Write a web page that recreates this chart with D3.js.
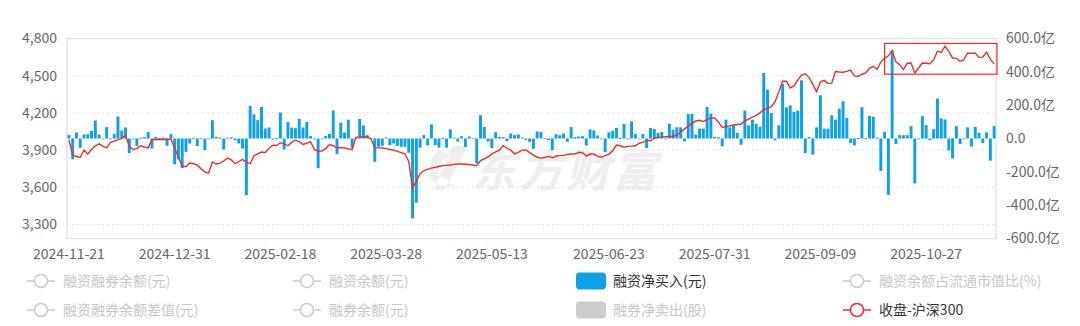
<!DOCTYPE html>
<html>
<head>
<meta charset="utf-8">
<script src="https://cdn.jsdelivr.net/npm/d3@7/dist/d3.min.js"></script>
<style>
  body { margin: 0; background: #fff; }
  text { font-family: "Noto Sans CJK SC", "Noto Sans", sans-serif; }
</style>
</head>
<body>
<script>
// chart size
var svgWidth = 1080;
var svgHeight = 326;

var margin = {
  top: 38.5,
  right: 84,
  bottom: 87.5,
  left: 67
};

var width = svgWidth - margin.left - margin.right;
var height = svgHeight - margin.top - margin.bottom;

// x axis labels (category index -> date)
var tickIndex = [0, 28, 56, 84, 112, 143, 171, 199, 227];
var tickLabels = ["2024-11-21", "2024-12-31", "2025-02-18", "2025-03-28", "2025-05-13",
  "2025-06-23", "2025-07-31", "2025-09-09", "2025-10-27"];

var closeTicks = [3300, 3600, 3900, 4200, 4500, 4800];
var netTicks = [-600, -400, -200, 0, 200, 400, 600];

// 融资净买入 (亿元), one per trading day
var netBuy = [20, -124, 36, -56, 24, 26, 46, 108, 24, -4, 68, -4, 26, 132, 48, 66, -88, -4, -44, 4,
  8, 40, -60, 10, 2, 6, -44, 26, -155, -125, -178, -80, -30, 2, -45, 4, -70, 0, 110, 10,
  6, -66, 4, 8, -10, -30, -60, -340, 195, 145, 110, 190, 60, 66, -6, 2, 156, -66, 98, 66,
  62, 117, 66, 99, 15, -2, -178, 0, 16, 28, 168, -94, 95, 36, 113, -55, 4, 117, 78, 20,
  2, -140, -50, -44, 6, -40, -30, -44, -50, -50, -85, -479, -385, -55, 20, -42, 84, -40, -55, 2,
  -55, 55, 5, -19, 14, -50, 12, 4, -150, 140, 70, -18, -58, 38, 10, 8, -16, 30, 20, 24,
  6, -8, -20, -62, 42, 40, 2, -10, -70, 26, 20, 30, -20, 68, 8, 12, 14, -42, 54, 48,
  18, 0, -82, 37, 47, 63, 2, 87, 0, 103, 27, 0, 27, -57, 63, 57, 33, 39, 0, 89,
  51, 67, 67, -17, 147, 147, 23, 59, 59, 189, 149, 10, 7, -47, 113, 67, 79, 33, -37, 167,
  79, 113, 87, 71, 393, 293, 153, -11, 79, 327, 187, 199, 159, 167, 349, -87, 9, -97, 67, 259,
  59, 59, 139, 113, 179, 223, 123, -27, -41, 3, 188, 2, 136, 130, 6, -195, 40, -338, 529, -33,
  20, 20, 20, 74, -270, 0, 134, 80, -10, 56, 240, 120, 114, -71, -120, 74, -33, 0, 67, -48,
  69, 34, -28, 37, -133, 74];

// 收盘-沪深300
var close300 = [3984, 3862, 3848, 3840, 3900, 3868, 3905, 3935, 3950, 3930, 3918, 3962, 3972, 3985, 3995, 4020, 3930, 3905, 3912, 3935,
  3925, 3918, 3985, 3988, 3986, 3987, 3986, 3990, 3918, 3840, 3772, 3766, 3795, 3790, 3778, 3750, 3725, 3714, 3804, 3788,
  3795, 3812, 3835, 3822, 3790, 3808, 3825, 3800, 3790, 3855, 3870, 3884, 3880, 3915, 3940, 3938, 3958, 3950, 3935, 3962,
  3980, 3968, 3945, 3955, 3968, 3905, 3890, 3893, 3912, 3944, 3935, 3917, 3920, 3917, 3910, 3903, 4003, 4005, 4005, 4008,
  3990, 3920, 3918, 3917, 3912, 3905, 3900, 3890, 3880, 3868, 3809, 3594, 3650, 3710, 3735, 3745, 3755, 3761, 3768, 3775,
  3777, 3780, 3785, 3788, 3788, 3786, 3784, 3780, 3775, 3815, 3830, 3845, 3870, 3885, 3900, 3935, 3915, 3900, 3870, 3882,
  3900, 3902, 3880, 3860, 3842, 3835, 3840, 3849, 3838, 3852, 3855, 3857, 3865, 3868, 3868, 3882, 3880, 3852, 3868, 3868,
  3850, 3842, 3855, 3868, 3895, 3940, 3935, 3922, 3930, 3932, 3935, 3955, 3962, 3980, 3975, 3995, 4003, 4005, 4008, 4010,
  4010, 4022, 4045, 4070, 4095, 4116, 4135, 4140, 4130, 4148, 4158, 4160, 4125, 4085, 4088, 4095, 4102, 4106, 4110, 4135,
  4150, 4165, 4180, 4200, 4228, 4235, 4250, 4290, 4370, 4455, 4455, 4400, 4420, 4465, 4505, 4515, 4485, 4430, 4370, 4450,
  4462, 4438, 4440, 4533, 4530, 4528, 4535, 4545, 4498, 4495, 4512, 4522, 4560, 4576, 4552, 4610, 4640, 4660, 4702, 4612,
  4589, 4549, 4600, 4602, 4522, 4562, 4602, 4600, 4597, 4629, 4697, 4690, 4737, 4697, 4643, 4640, 4616, 4629, 4683, 4680,
  4683, 4648, 4650, 4691, 4632, 4595];

var days = d3.range(netBuy.length);

// legend
var legendNames = ["融资融券余额(元)", "融资融券余额差值(元)", "融资余额(元)", "融券余额(元)",
  "融资净买入(元)", "融券净卖出(股)", "融资余额占流通市值比(%)", "收盘-沪深300"];
var legendKinds = ["line", "line", "line", "line", "bar", "bar", "line", "line"];
var legendActive = [false, false, false, false, true, false, false, true];

var blue = "#0ea0e8";
var red = "#f02b2b";

var svg = d3.select("body")
  .append("svg")
  .attr("width", svgWidth)
  .attr("height", svgHeight);

// watermark
var wm = svg.append("g").attr("fill", "#efefef");
wm.append("path")
  .attr("d", "M440,150 q-14,10 -10,26 q4,12 22,10 l-6,-8 q-10,0 -8,-10 q2,-8 12,-12 z M452,146 l16,0 l-24,44 l-10,0 z");
wm.append("text")
  .attr("x", 472)
  .attr("y", 187)
  .attr("font-size", 44)
  .attr("font-weight", "bold")
  .attr("font-style", "italic")
  .attr("letter-spacing", 3)
  .text("东方财富");

var chartGroup = svg.append("g")
  .attr("transform", `translate(${margin.left}, ${margin.top})`);

var xBandScale = d3.scaleBand()
  .domain(days)
  .range([0, width])
  .paddingInner(0.22)
  .paddingOuter(0.11);

var yCloseScale = d3.scaleLinear()
  .domain([3187, 4800])
  .range([height, 0]);

var yNetScale = d3.scaleLinear()
  .domain([-600, 600])
  .range([height, 0]);

// dotted grid on the left axis ticks
chartGroup.selectAll(".grid")
  .data(closeTicks.slice(0, -1))
  .enter()
  .append("line")
  .attr("x1", 0)
  .attr("x2", width)
  .attr("y1", d => yCloseScale(d))
  .attr("y2", d => yCloseScale(d))
  .attr("stroke", "#e2e2e2")
  .attr("stroke-dasharray", "2,3");

// border
chartGroup.append("rect")
  .attr("width", width)
  .attr("height", height)
  .attr("fill", "none")
  .attr("stroke", "#e3e3e3")
  .attr("stroke-width", 1.5);

// bars
chartGroup.selectAll(".bar")
  .data(days)
  .enter()
  .append("rect")
  .attr("x", i => xBandScale(i))
  .attr("width", xBandScale.bandwidth())
  .attr("y", i => yNetScale(Math.max(0, netBuy[i])))
  .attr("height", i => Math.max(0.8, Math.abs(yNetScale(netBuy[i]) - yNetScale(0))))
  .attr("fill", blue);

// close line
var line = d3.line()
  .x(i => xBandScale(i) + xBandScale.bandwidth() / 2)
  .y(i => yCloseScale(close300[i]));

chartGroup.append("path")
  .datum(days)
  .attr("d", line)
  .attr("fill", "none")
  .attr("stroke", red)
  .attr("stroke-width", 1.4);

// highlight box around the recent highs
var boxStart = 216;
chartGroup.append("rect")
  .attr("x", xBandScale(boxStart) + xBandScale.bandwidth() / 2)
  .attr("y", yCloseScale(4760))
  .attr("width", width + 1 - xBandScale(boxStart) - xBandScale.bandwidth() / 2)
  .attr("height", yCloseScale(4512) - yCloseScale(4760))
  .attr("fill", "none")
  .attr("stroke", "#ee2a2a")
  .attr("stroke-width", 1.2);

// axes
var leftAxis = d3.axisLeft(yCloseScale)
  .tickValues(closeTicks)
  .tickSize(0)
  .tickPadding(10)
  .tickFormat(d3.format(","));

var rightAxis = d3.axisRight(yNetScale)
  .tickValues(netTicks)
  .tickSize(0)
  .tickPadding(10)
  .tickFormat(d => d === 0 ? "0.0" : d.toFixed(1) + "亿");

var bottomAxis = d3.axisBottom(xBandScale)
  .tickValues(tickIndex)
  .tickSize(0)
  .tickPadding(11)
  .tickFormat(i => tickLabels[tickIndex.indexOf(i)]);

[chartGroup.append("g").call(leftAxis),
 chartGroup.append("g").attr("transform", `translate(${width}, 0)`).call(rightAxis),
 chartGroup.append("g").attr("transform", `translate(0, ${height})`).call(bottomAxis)
].forEach(function(g) {
  g.select(".domain").remove();
  g.selectAll("text")
    .attr("fill", "#666")
    .style("font-size", "14px");
});

// legend, two rows in four columns
var legendX = [27, 293, 576, 843];
var legendY = [281, 310];

var legend = svg.selectAll(".legend")
  .data(legendNames)
  .enter()
  .append("g")
  .attr("transform", (d, i) => `translate(${legendX[Math.floor(i / 2)]}, ${legendY[i % 2]})`);

legend.each(function(d, i) {
  var g = d3.select(this);
  var col = legendActive[i] ? (legendKinds[i] == "bar" ? blue : red) : "#cccccc";
  var tx;
  if (legendKinds[i] == "bar") {
    g.append("rect")
      .attr("x", 0)
      .attr("y", -8.5)
      .attr("width", 30)
      .attr("height", 17)
      .attr("rx", 4)
      .attr("fill", col);
    tx = 37;
  } else {
    g.append("line")
      .attr("x1", 0).attr("x2", 28)
      .attr("stroke", col)
      .attr("stroke-width", 1.5);
    g.append("circle")
      .attr("cx", 14)
      .attr("r", 6.5)
      .attr("fill", "#fff")
      .attr("stroke", col)
      .attr("stroke-width", 1.5);
    tx = 36;
  }
  g.append("text")
    .attr("x", tx)
    .attr("dy", "0.35em")
    .style("font-size", "14px")
    .attr("fill", legendActive[i] ? "#333" : "#c8c8c8")
    .text(d);
});
</script>
</body>
</html>
